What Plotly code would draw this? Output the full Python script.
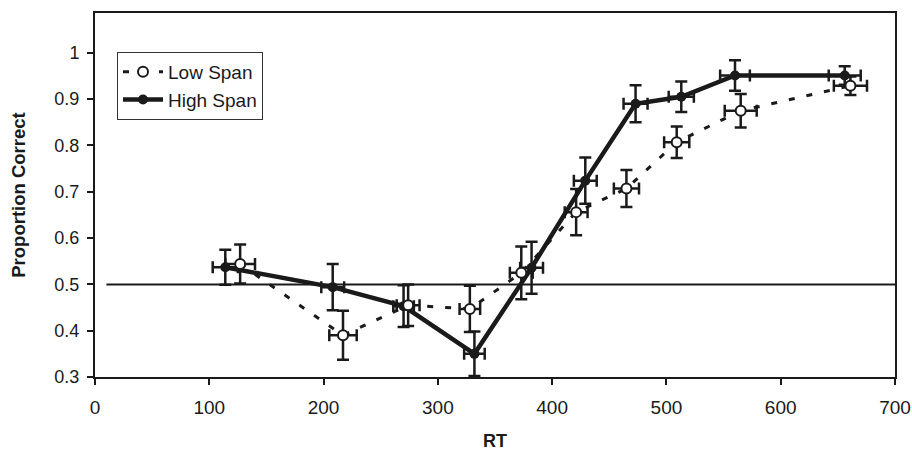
import plotly.graph_objects as go

# Data
high_rt = [114, 208, 270, 332, 382, 429, 473, 513, 560, 656]
high_pc = [0.537, 0.494, 0.453, 0.350, 0.536, 0.724, 0.890, 0.905, 0.951, 0.951]
high_err_pc = [0.038, 0.050, 0.045, 0.048, 0.056, 0.050, 0.040, 0.033, 0.033, 0.020]
high_err_rt = [11, 10, 9, 9, 10, 10, 10.5, 11, 13, 14]

low_rt = [127, 217, 274, 328, 373, 421, 465, 509, 565, 661]
low_pc = [0.544, 0.390, 0.455, 0.447, 0.525, 0.656, 0.707, 0.807, 0.875, 0.929]
low_err_pc = [0.042, 0.053, 0.045, 0.050, 0.057, 0.050, 0.040, 0.034, 0.036, 0.020]
low_err_rt = [13, 12, 10, 9, 10, 10, 11, 11, 14, 14.5]

chance_rt = [10, 700]
chance_pc = [0.5, 0.5]

x_ticks = [0, 100, 200, 300, 400, 500, 600, 700]
y_ticks = [0.3, 0.4, 0.5, 0.6, 0.7, 0.8, 0.9, 1.0]
y_tick_text = ["0.3", "0.4", "0.5", "0.6", "0.7", "0.8", "0.9", "1"]

FONT = "Liberation Sans, Arial, sans-serif"
INK = "#1a1a1a"

fig = go.Figure()

fig.add_trace(go.Scatter(
    x=chance_rt, y=chance_pc, mode="lines",
    line=dict(color=INK, width=2), showlegend=False, hoverinfo="skip"))

fig.add_trace(go.Scatter(
    x=high_rt, y=high_pc, mode="lines+markers", name="High Span",
    legendrank=2,
    line=dict(color=INK, width=4.5),
    marker=dict(symbol="circle", size=10, color=INK),
    error_y=dict(type="data", array=high_err_pc, color=INK, thickness=2.5, width=6),
    error_x=dict(type="data", array=high_err_rt, color=INK, thickness=2.5, width=6),
))

fig.add_trace(go.Scatter(
    x=low_rt, y=low_pc, mode="lines+markers", name="Low Span",
    legendrank=1,
    line=dict(color=INK, width=3, dash="6px,12px"),
    marker=dict(symbol="circle", size=10, color="white", line=dict(color=INK, width=2)),
    error_y=dict(type="data", array=low_err_pc, color=INK, thickness=2.5, width=6),
    error_x=dict(type="data", array=low_err_rt, color=INK, thickness=2.5, width=6),
))

fig.update_layout(
    width=912, height=452,
    margin=dict(l=95, r=17, t=13, b=75),
    paper_bgcolor="white", plot_bgcolor="white",
    font=dict(family=FONT, size=18, color=INK),
    legend=dict(
        x=0.0275, y=0.893, xanchor="left", yanchor="top",
        bgcolor="white", bordercolor="#333333", borderwidth=1,
        font=dict(family=FONT, size=19, color=INK),
        itemwidth=40,
    ),
    xaxis=dict(
        range=[0, 700], tickvals=x_ticks, ticks="outside", ticklen=6,
        tickcolor=INK, tickwidth=1.5, ticklabelstandoff=6,
        tickfont=dict(family=FONT, size=19),
        showline=True, linecolor=INK, linewidth=2, mirror=True,
        showgrid=False, zeroline=False, automargin=False,
        title=dict(text="<b>RT</b>", font=dict(family=FONT, size=18), standoff=18),
    ),
    yaxis=dict(
        range=[0.3, 1.086], tickvals=y_ticks, ticktext=y_tick_text,
        ticks="outside", ticklen=6, tickcolor=INK, tickwidth=1.5, ticklabelstandoff=4,
        tickfont=dict(family=FONT, size=18),
        showline=True, linecolor=INK, linewidth=2, mirror=True,
        showgrid=False, zeroline=False, automargin=False,
        title=dict(text="<b>Proportion Correct</b>", font=dict(family=FONT, size=18.5), standoff=24),
    ),
)

fig.write_html("out.html")
